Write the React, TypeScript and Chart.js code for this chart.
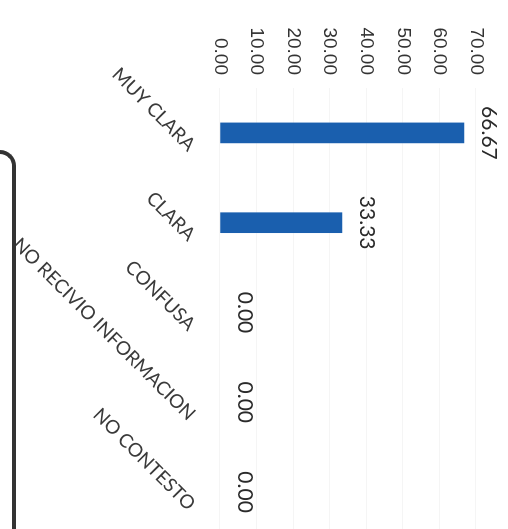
import React, { useEffect, useRef } from "react";
import { Chart, registerables } from "chart.js";

Chart.register(...registerables);

const categories = ["MUY CLARA", "CLARA", "CONFUSA", "NO RECIVIO INFORMACION", "NO CONTESTO"];
const values = [66.67, 33.33, 0, 0, 0];
const yMin = 0;
const yMax = 70;
const yStep = 10;

const CANVAS_W = 560;
const CANVAS_H = 508;
const BAR_COLOR = "#1a5fae";

const dataLabels = {
  id: "dataLabels",
  afterDatasetsDraw(chart: any) {
    const ctx = chart.ctx;
    const meta = chart.getDatasetMeta(0);
    ctx.save();
    ctx.font = "21px Lato";
    ctx.fillStyle = "#2a2a2a";
    ctx.textAlign = "center";
    ctx.textBaseline = "bottom";
    meta.data.forEach((el: any, i: number) => {
      const v = chart.data.datasets[0].data[i] as number;
      ctx.fillText(v.toFixed(2), el.x, el.y - 14);
    });
    ctx.restore();
  },
};

export default function App() {
  const ref = useRef<HTMLCanvasElement | null>(null);
  useEffect(() => {
    if (!ref.current) return;
    const chart = new Chart(ref.current, {
      type: "bar",
      data: {
        labels: categories,
        datasets: [
          {
            data: values,
            backgroundColor: values.map((v) => (v > 0 ? BAR_COLOR : "rgba(0,0,0,0)")),
            borderWidth: 0,
            barThickness: 20,
          },
        ],
      },
      options: {
        responsive: false,
        animation: false,
        devicePixelRatio: 1,
        layout: { padding: { top: 32, right: 23, left: 0, bottom: 0 } },
        plugins: { legend: { display: false }, tooltip: { enabled: false } },
        scales: {
          x: {
            grid: { display: false },
            border: { display: false },
            afterFit(scale: any) {
              scale.height = 220;
            },
            ticks: {
              autoSkip: false,
              maxRotation: 45,
              minRotation: 45,
              padding: 12,
              labelOffset: 15,
              color: "#3a3a3a",
              font: { family: "Lato", size: 19 },
            },
          },
          y: {
            min: yMin,
            max: yMax,
            border: { display: false },
            grid: { color: "rgba(0,0,0,0.04)", drawTicks: false },
            afterFit(scale: any) {
              scale.width = 88;
            },
            ticks: {
              stepSize: yStep,
              padding: 13,
              color: "#333",
              font: { family: "Liberation Sans", size: 19 },
              callback: (v: any) => Number(v).toFixed(2),
            },
          },
        },
      },
      plugins: [dataLabels],
    });
    return () => chart.destroy();
  }, []);

  return (
    <div
      style={{
        position: "fixed",
        left: 0,
        top: 0,
        width: 508,
        height: 529,
        overflow: "hidden",
        background: "#fff",
      }}
    >
      <canvas
        ref={ref}
        width={CANVAS_W}
        height={CANVAS_H}
        style={{
          position: "absolute",
          left: 0,
          top: 0,
          width: CANVAS_W,
          height: CANVAS_H,
          transformOrigin: "0 0",
          transform: `translateX(${CANVAS_H}px) rotate(90deg)`,
        }}
      />
      <div
        style={{
          position: "absolute",
          left: -18,
          top: 150,
          width: 30,
          height: 420,
          borderRight: "4px solid #333",
          borderTop: "4px solid #333",
          borderTopRightRadius: 16,
        }}
      />
    </div>
  );
}
